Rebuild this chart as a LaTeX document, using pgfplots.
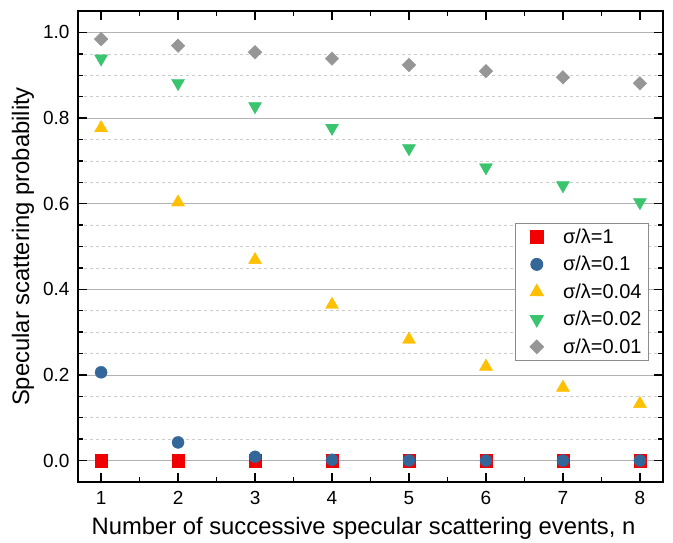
\documentclass[border=0pt]{standalone}
\usepackage{pgfplots}
\pgfplotsset{compat=1.18}
\usepackage{fontspec}
\setmainfont{Liberation Sans}

\definecolor{cred}{RGB}{240,0,0}
\definecolor{cblue}{RGB}{51,102,153}
\definecolor{cyellow}{RGB}{255,192,0}
\definecolor{cgreen}{RGB}{58,196,110}
\definecolor{cgray}{RGB}{150,150,150}

% scatter series: marks only, with the legend symbol set well left of its text
\pgfplotsset{mk/.style={only marks,
  legend image code/.code={\path (0cm,0cm) (1.4cm,0cm);
    \draw[mark repeat=2,mark phase=2,##1]
    plot coordinates {(0cm,0cm)(0.6cm,0cm)(1.4cm,0cm)};}}}

\begin{document}
\begin{tikzpicture}
\begin{axis}[
  name=ax,
  scale only axis,
  width=585pt, height=471pt,
  xmin=0.7, xmax=8.3,
  ymin=-0.05, ymax=1.05,
  xtick={1,...,8},
  ytick={0,0.2,0.4,0.6,0.8,1.0},
  minor x tick num=1,
  minor y tick num=3,
  tick align=inside,
  major tick length=9pt,
  minor tick length=5pt,
  every tick/.style={black, line width=1.4pt},
  axis line style={black, line width=1.8pt},
  ymajorgrids, yminorgrids,
  major grid style={black!30, line width=0.7pt},
  minor grid style={black!20, dashed, line width=0.6pt},
  /pgf/number format/assume math mode=true,
  yticklabel style={/pgf/number format/fixed, /pgf/number format/fixed zerofill, /pgf/number format/precision=1},
  ticklabel style={font=\fontsize{19}{22}\selectfont},
  xticklabel style={yshift=-6pt},
  yticklabel style={xshift=-5pt},
  xlabel={Number of successive specular scattering events, n},
  ylabel={Specular scattering probability},
  label style={font=\fontsize{23.8}{28}\selectfont},
  xlabel style={yshift=-5pt, xshift=-7pt},
  ylabel style={yshift=2pt},
  legend style={at={(0.976,0.55)}, anchor=north east, draw=black!45, line width=0.9pt,
    font=\fontsize{20}{23}\selectfont, row sep=7.5pt, inner xsep=4pt, inner ysep=3.5pt,
    nodes={inner xsep=3pt}},
  legend cell align=left,
]
\addplot[mk, mark=square*, mark size=6.2pt, color=cred] coordinates {
  (1,0) (2,0) (3,0) (4,0) (5,0) (6,0) (7,0) (8,0)};
\addlegendentry{σ/λ=1}
\addplot[mk, mark=*, mark size=6pt, color=cblue] coordinates {
  (1,0.2062) (2,0.0425) (3,0.0088) (4,0.0018) (5,0.0004) (6,0.0001) (7,0) (8,0)};
\addlegendentry{σ/λ=0.1}
\addplot[mk, mark=triangle*, mark size=7.5pt, color=cyellow] coordinates {
  (1,0.7767) (2,0.6033) (3,0.4686) (4,0.3640) (5,0.2827) (6,0.2196) (7,0.1705) (8,0.1325)};
\addlegendentry{σ/λ=0.04}
\addplot[mk, mark=triangle*, mark size=7.5pt, mark options={rotate=180}, color=cgreen] coordinates {
  (1,0.9388) (2,0.8813) (3,0.8274) (4,0.7768) (5,0.7292) (6,0.6846) (7,0.6427) (8,0.6034)};
\addlegendentry{σ/λ=0.02}
\addplot[mk, mark=square*, mark size=4.8pt, mark options={rotate=45}, color=cgray] coordinates {
  (1,0.9843) (2,0.9689) (3,0.9537) (4,0.9387) (5,0.9240) (6,0.9095) (7,0.8952) (8,0.8812)};
\addlegendentry{σ/λ=0.01}
\end{axis}
\path ([shift={(-78pt,-59pt)}]ax.south west) rectangle ([shift={(10pt,11pt)}]ax.north east);
\end{tikzpicture}
\end{document}
